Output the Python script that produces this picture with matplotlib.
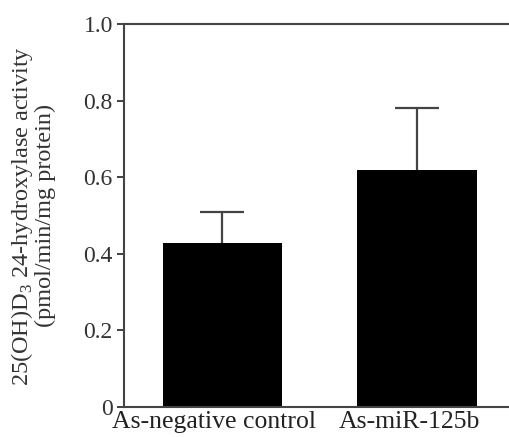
import numpy as np
import matplotlib.pyplot as plt
import matplotlib.transforms as mtransforms

plt.rcParams['font.family'] = ['Liberation Serif', 'DejaVu Serif']
plt.rcParams['mathtext.fontset'] = 'custom'
plt.rcParams['mathtext.rm'] = 'Liberation Serif'

groups = ["As-negative control", "As-miR-125b"]
activity = [0.429, 0.619]
sem_up = [0.081, 0.163]

fig = plt.figure(figsize=(5.10, 4.37), dpi=100)
ax = fig.add_axes([0.243, 0.0686, 0.757, 0.876])

x = np.arange(len(groups))
ax.bar(x, activity, width=0.612, color="black", zorder=2)
eb = ax.errorbar(x, activity, yerr=[np.zeros(len(sem_up)), sem_up], fmt="none",
                 ecolor="#444444", elinewidth=1.6, capsize=15.5, capthick=1.6, zorder=1)
# only the upper cap is drawn in the original
eb[1][0].set_visible(False)

ax.set_xlim(-0.506, 1.478)
ax.set_ylim(0, 1.0)
ax.set_yticks([0, 0.2, 0.4, 0.6, 0.8, 1.0])
ax.set_yticklabels(["0", "0.2", "0.4", "0.6", "0.8", "1.0"])
ax.set_xticks(x)
ax.set_xticklabels(groups)

ax.tick_params(axis="y", direction="out", length=5, width=1.3, colors="#333333",
               labelsize=17, pad=3)
ax.tick_params(axis="x", length=0, labelsize=18.5, labelcolor="#222222", pad=3)
shift = mtransforms.ScaledTranslation(-8 / 100, 0, fig.dpi_scale_trans)
for lab in ax.get_xticklabels():
    lab.set_transform(lab.get_transform() + shift)

for side in ["left", "top", "bottom"]:
    ax.spines[side].set_linewidth(1.5)
    ax.spines[side].set_color("#444444")
ax.spines["right"].set_visible(False)

ax.set_ylabel("25(OH)D$_3$ 24-hydroxylase activity\n(pmol/min/mg protein)",
              fontsize=17.5, color="#333333", linespacing=0.95, labelpad=20)

plt.savefig("out.png", dpi=100)
